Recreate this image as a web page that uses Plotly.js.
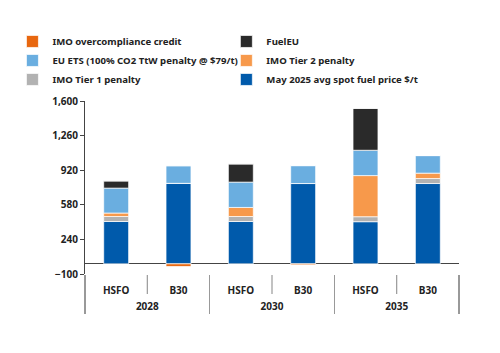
<!DOCTYPE html>
<html><head><meta charset="utf-8">
<script src="https://cdn.plot.ly/plotly-3.0.1.min.js"></script>
<style>body{margin:0;background:#fff}#c{width:500px;height:353px}</style>
</head><body><div id="c"></div>
<script>
const years = ['2028','2028','2030','2030','2035','2035'];
const fuels = ['HSFO','B30','HSFO','B30','HSFO','B30'];
const fuelPrice = [416, 791, 416, 789, 414, 789];
const tier1 = [49, 0, 49, 0, 49, 49];
const tier2 = [34, 0, 89, 0, 404, 53];
const ets = [245, 173, 249, 176, 249, 173];
const fuelEU = [71, 0, 179, 0, 412, 0];
const credit = [0, -26, 0, -10, 0, 0];
const yTicks = [-100, 240, 580, 920, 1260, 1600];

const FONT = 'Noto Sans, Open Sans, sans-serif';
const x = [years, fuels];
const line = {color:'rgba(255,255,255,0.7)', width:1};
function tr(name, y, color, leg, rank){
  return {type:'bar', name:name, x:x, y:y, width:0.4, legend:leg, legendrank:rank,
    marker:{color:color, line:line}, hoverinfo:'none'};
}
const data = [
  tr('May 2025 avg spot fuel price $/t', fuelPrice, '#005AAB', 'legend2', 3),
  tr('IMO Tier 1 penalty', tier1, '#B2B2B2', 'legend', 3),
  tr('IMO Tier 2 penalty', tier2, '#F7994B', 'legend2', 2),
  tr('EU ETS (100% CO2 TtW penalty @ $79/t)', ets, '#6AAEE0', 'legend', 2),
  tr('FuelEU', fuelEU, '#2A2A2A', 'legend2', 1),
  tr('IMO overcompliance credit', credit, '#E8670F', 'legend', 1)
];
// sub-category separators between fuels within the same year
const shapes = [];
for (let i = 0; i < years.length - 1; i++) {
  if (years[i] === years[i+1]) {
    shapes.push({type:'line', xref:'x', yref:'paper', x0:i+0.5, x1:i+0.5,
      y0:-0.006, y1:-0.116, line:{color:'#999', width:1.2}});
  }
}
const lfont = {family:FONT, size:9.6, color:'#222', weight:'bold'};
const layout = {
  width:500, height:353,
  margin:{l:77, r:41, t:101, b:79},
  paper_bgcolor:'#fff', plot_bgcolor:'#fff',
  barmode:'relative',
  font:{family:FONT, size:10, color:'#222', weight:'bold'},
  showlegend:true,
  shapes:shapes,
  legend:{orientation:'v', x:-0.194, xanchor:'left', y:1.428, yanchor:'top',
    traceorder:'normal', font:lfont, bgcolor:'rgba(0,0,0,0)'},
  legend2:{orientation:'v', x:0.378, xanchor:'left', y:1.428, yanchor:'top',
    traceorder:'normal', font:lfont, bgcolor:'rgba(0,0,0,0)'},
  xaxis:{type:'multicategory', showline:false, showgrid:false, zeroline:false,
    ticks:'outside', tickson:'labels', ticklen:7, tickcolor:'rgba(0,0,0,0)', tickwidth:1,
    showdividers:true, dividercolor:'#999', dividerwidth:1.5,
    tickfont:{family:FONT, size:10, color:'#222', weight:'bold'}},
  yaxis:{range:[-100,1600], tickvals:yTicks, tickformat:',', showgrid:false,
    showline:true, linecolor:'#444', linewidth:1, ticks:'outside', ticklen:4, tickcolor:'#444',
    zeroline:true, zerolinecolor:'#444', zerolinewidth:1,
    tickfont:{family:FONT, size:10, color:'#222', weight:'bold'}}
};
Plotly.newPlot('c', data, layout, {displayModeBar:false, staticPlot:true});
</script></body></html>
